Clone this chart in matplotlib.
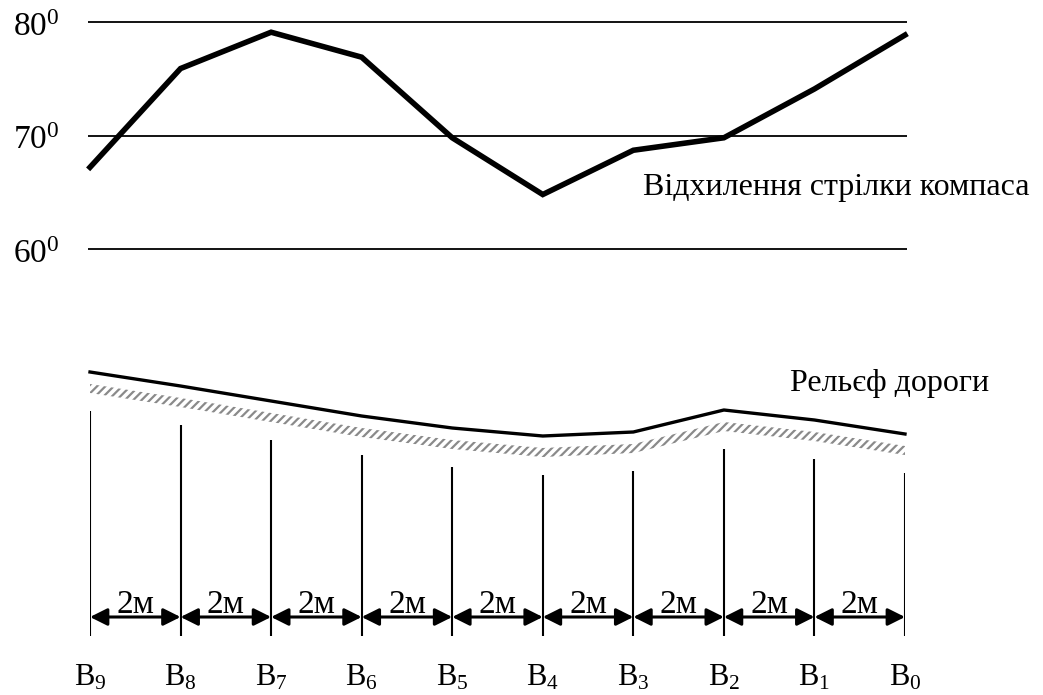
import numpy as np
import matplotlib
matplotlib.use("Agg")
import matplotlib.pyplot as plt

plt.rcParams['font.family'] = ['Liberation Serif', 'DejaVu Serif']
plt.rcParams['mathtext.fontset'] = 'custom'
plt.rcParams['mathtext.rm'] = 'Liberation Serif'
plt.rcParams['mathtext.it'] = 'Liberation Serif:italic'
plt.rcParams['mathtext.default'] = 'regular'
plt.rcParams['hatch.linewidth'] = 1.6

# distance of the points, m (B9 ... B0)
dist = [0, 2, 4, 6, 8, 10, 12, 14, 16, 18]
point_labels = ['B$_9$', 'B$_8$', 'B$_7$', 'B$_6$', 'B$_5$',
                'B$_4$', 'B$_3$', 'B$_2$', 'B$_1$', 'B$_0$']
# compass needle deviation, degrees
compass = [67.2, 75.9, 79.1, 76.9, 69.8, 64.8, 68.7, 69.8, 74.1, 78.85]
grid_deg = [60, 70, 80]
grid_labels = ['60$^0$', '70$^0$', '80$^0$']
# road relief, relative height units
relief = [268, 254, 239, 224, 212, 204, 208, 230, 220, 206]
step_label = '2м'

W, H = 1043, 695
fig = plt.figure(figsize=(W / 100, H / 100), dpi=100)


def px_axes(x0, y0, x1, y1):
    return fig.add_axes([x0 / W, 1 - y1 / H, (x1 - x0) / W, (y1 - y0) / H])


# --- compass deviation ---
ax = px_axes(90, 22, 905, 249)
ax.set_xlim(0, 18)
ax.set_ylim(60, 80)
ax.axis('off')
ax.hlines(grid_deg, -0.05, 18.05, color='black', lw=1.3, clip_on=False)
ax.plot(dist, compass, color='black', lw=4, solid_joinstyle='miter', clip_on=False)
for g, lab in zip(grid_deg, grid_labels):
    ax.annotate(lab, (-1.7, g), xytext=(0, -10), textcoords='offset points',
                ha='left', va='baseline', fontsize=24, annotation_clip=False)
ax.text(12.21, 64.76, 'Відхилення стрілки компаса', fontsize=23,
        ha='left', va='baseline')

# --- road relief ---
ax2 = px_axes(90, 300, 905, 695)
ax2.set_xlim(0, 18)
ax2.set_ylim(-55, 340)
ax2.axis('off')
rel = np.array(relief)
ax2.fill_between(dist, rel - 12, rel - 21, facecolor='none', edgecolor='#8a8a8a',
                 hatch='/' * 4, lw=0)
ax2.plot(dist, relief, color='black', lw=2.4, clip_on=False)
ax2.vlines(dist, 4, rel - 39, color='black', lw=1.5)
ax2.text(15.46, 249, 'Рельєф дороги', fontsize=23, ha='left', va='baseline')

for a, b in zip(dist[:-1], dist[1:]):
    ax2.annotate('', xy=(b, 23), xytext=(a, 23),
                 arrowprops=dict(arrowstyle='<|-|>', color='black', lw=2.2,
                                 mutation_scale=26, shrinkA=0, shrinkB=0))
    ax2.text((a + b) / 2, 27, step_label, fontsize=24, ha='center', va='baseline')

for x, lab in zip(dist, point_labels):
    ax2.text(x, -45, lab, fontsize=22, ha='center', va='baseline')

fig.savefig('out.png', dpi=100)
